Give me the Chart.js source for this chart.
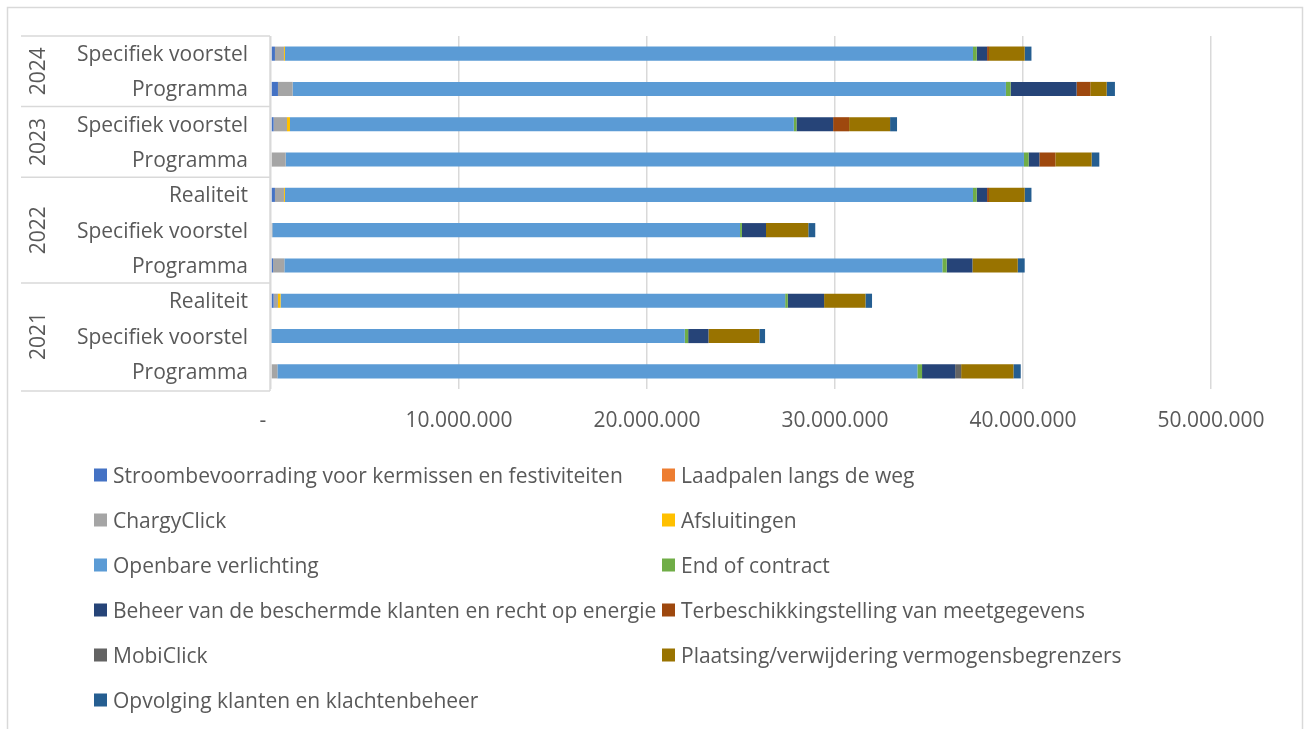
<!DOCTYPE html>
<html>
<head>
<meta charset="utf-8">
<script src="https://cdn.jsdelivr.net/npm/chart.js@4"></script>
<style>
  html, body { margin: 0; padding: 0; background: #ffffff; }
  #wrap { position: relative; width: 1304px; height: 729px; }
</style>
</head>
<body>
<div id="wrap"><canvas id="c" width="1304" height="729"></canvas></div>
<script>
// ---- DATA ----
const categories = ['Specifiek voorstel','Programma','Specifiek voorstel','Programma','Realiteit','Specifiek voorstel','Programma','Realiteit','Specifiek voorstel','Programma'];
const years = ['2024','2024','2023','2023','2022','2022','2022','2021','2021','2021'];
const xTickLabels = ['-   ','10.000.000','20.000.000','30.000.000','40.000.000','50.000.000'];

const seriesNames = [
  'Stroombevoorrading voor kermissen en festiviteiten',
  'Laadpalen langs de weg',
  'ChargyClick',
  'Afsluitingen',
  'Openbare verlichting',
  'End of contract',
  'Beheer van de beschermde klanten en recht op energie',
  'Terbeschikkingstelling van meetgegevens',
  'MobiClick',
  'Plaatsing/verwijdering vermogensbegrenzers',
  'Opvolging klanten en klachtenbeheer'
];
const seriesColors = ['#4472C4','#ED7D31','#A5A5A5','#FFC000','#5B9BD5','#70AD47','#264478','#9E480E','#636363','#997300','#255E91'];

const stroom      = [210000, 370000, 140000, 0, 210000, 0, 110000, 140000, 0, 0];
const laadpalen   = [0, 0, 0, 0, 0, 0, 0, 0, 0, 0];
const chargy      = [480000, 780000, 710000, 780000, 480000, 70000, 600000, 230000, 30000, 340000];
const afsluit     = [50000, 0, 160000, 0, 50000, 0, 0, 140000, 0, 0];
const openbare    = [36600000, 37940000, 26800000, 39270000, 36600000, 24880000, 35000000, 26840000, 21980000, 34040000];
const endContract = [200000, 250000, 140000, 250000, 200000, 100000, 230000, 140000, 180000, 250000];
const beheer      = [550000, 3510000, 1950000, 570000, 550000, 1280000, 1370000, 1930000, 1080000, 1760000];
const terbesch    = [100000, 730000, 850000, 850000, 100000, 0, 0, 0, 0, 0];
const mobi        = [0, 0, 0, 0, 0, 0, 0, 0, 0, 320000];
const plaatsing   = [1900000, 870000, 2180000, 1930000, 1900000, 2250000, 2410000, 2200000, 2710000, 2780000];
const opvolging   = [360000, 440000, 370000, 410000, 360000, 370000, 370000, 350000, 300000, 390000];

const seriesValues = [stroom, laadpalen, chargy, afsluit, openbare, endContract, beheer, terbesch, mobi, plaatsing, opvolging];

// ---- STYLE ----
const FONT = '"Open Sans", Lato, sans-serif';
const TXT = '#595959';
const LINE = '#d9d9d9';

const datasets = seriesNames.map((n, i) => ({
  label: n,
  data: seriesValues[i],
  backgroundColor: seriesColors[i],
  borderWidth: 0,
  categoryPercentage: 0.4,
  barPercentage: 1.0
}));

const decorPlugin = {
  id: 'decor',
  beforeDraw(chart) {
    const ctx = chart.ctx;
    ctx.save();
    ctx.strokeStyle = LINE;
    ctx.lineWidth = 1.5;
    ctx.strokeRect(7.5, 7.5, 1295, 800);
    ctx.restore();
  },
  afterDraw(chart) {
    const ctx = chart.ctx;
    const ys = chart.scales.y;
    const area = chart.chartArea;
    const n = categories.length;
    const left = 21, right = 270;
    ctx.save();
    ctx.strokeStyle = LINE;
    ctx.lineWidth = 1.5;
    // vertical axis line
    ctx.beginPath();
    ctx.moveTo(right, area.top);
    ctx.lineTo(right, area.bottom + 2);
    ctx.stroke();
    // group boundaries
    const bounds = [0];
    for (let i = 1; i < n; i++) if (years[i] !== years[i - 1]) bounds.push(i);
    bounds.push(n);
    bounds.forEach(b => {
      let y = b === n ? area.bottom + 2 : (b === 0 ? area.top : (ys.getPixelForValue(b - 1) + ys.getPixelForValue(b)) / 2);
      ctx.beginPath();
      ctx.moveTo(left, y);
      ctx.lineTo(right, y);
      ctx.stroke();
    });
    // year labels
    ctx.fillStyle = TXT;
    ctx.font = '21px ' + FONT;
    ctx.textAlign = 'center';
    ctx.textBaseline = 'middle';
    for (let g = 0; g < bounds.length - 1; g++) {
      const a = bounds[g], b = bounds[g + 1] - 1;
      const yc = (ys.getPixelForValue(a) + ys.getPixelForValue(b)) / 2;
      ctx.save();
      ctx.translate(39, yc);
      ctx.rotate(-Math.PI / 2);
      ctx.fillText(years[a], 0, 0);
      ctx.restore();
    }
    // legend
    const colX = [94, 662];
    const y0 = 475, dy = 45, sq = 13;
    ctx.font = '21px ' + FONT;
    ctx.textAlign = 'left';
    chart.data.datasets.forEach((ds, i) => {
      const col = i % 2, row = Math.floor(i / 2);
      const x = colX[col], y = y0 + row * dy;
      ctx.fillStyle = ds.backgroundColor;
      ctx.fillRect(x, y - sq / 2, sq, sq);
      ctx.fillStyle = TXT;
      ctx.fillText(ds.label, x + 19, y + 2);
    });
    ctx.restore();
  }
};

new Chart(document.getElementById('c'), {
  type: 'bar',
  data: { labels: categories, datasets },
  options: {
    indexAxis: 'y',
    responsive: false,
    animation: false,
    maintainAspectRatio: false,
    layout: { padding: { left: 0, top: 36, right: 93, bottom: 290 } },
    plugins: {
      legend: { display: false },
      tooltip: { enabled: false },
      title: { display: false }
    },
    scales: {
      x: {
        stacked: true,
        min: 0,
        max: 50000000,
        ticks: {
          stepSize: 10000000,
          color: TXT,
          font: { family: FONT, size: 21 },
          padding: 19,
          maxRotation: 0,
          callback: (v, i) => xTickLabels[i]
        },
        grid: { color: LINE, lineWidth: 1.5, drawTicks: false },
        border: { display: false },
        afterFit: s => { s.height = 50; }
      },
      y: {
        stacked: true,
        ticks: {
          color: TXT,
          font: { family: FONT, size: 21 },
          padding: 23,
          labelOffset: 1.5,
          autoSkip: false
        },
        grid: { display: false, drawTicks: false },
        border: { display: false },
        afterFit: s => { s.width = 271; }
      }
    }
  },
  plugins: [decorPlugin]
});
</script>
</body>
</html>
